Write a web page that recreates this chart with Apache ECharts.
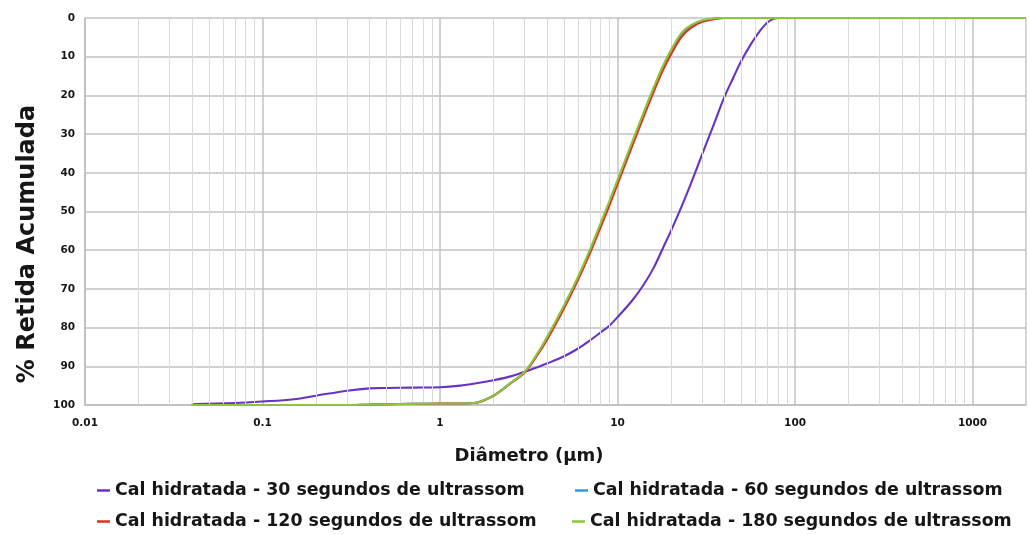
<!DOCTYPE html>
<html>
<head>
<meta charset="utf-8">
<script src="https://cdn.jsdelivr.net/npm/echarts@6/dist/echarts.min.js"></script>
<style>
  html, body { margin: 0; padding: 0; background: #ffffff; }
  #chart { width: 1029px; height: 535px; }
</style>
</head>
<body>
<div id="chart"></div>
<script>
// Particle diameters (µm) shared by every curve
const diameters = [0.04, 0.07, 0.1, 0.15, 0.2, 0.3, 0.4, 0.5, 0.7, 1, 1.3, 1.6, 2, 2.5, 3, 3.5, 4, 5, 6, 7, 8, 9, 10, 12, 14, 16, 18, 20, 23, 26, 30, 35, 40, 45, 50, 56, 63, 71, 80, 100, 200, 500, 1000, 2000];

// Cumulative retained (%) for each ultrasound time
const cal30 = [99.8, 99.5, 99.1, 98.5, 97.6, 96.3, 95.7, 95.6, 95.5, 95.4, 95.0, 94.4, 93.6, 92.6, 91.4, 90.3, 89.3, 87.4, 85.4, 83.3, 81.3, 79.5, 77.3, 73.2, 69.0, 64.5, 59.5, 55.0, 48.6, 42.6, 35.2, 27.3, 20.4, 15.3, 10.9, 7.0, 3.5, 0.9, 0, 0, 0, 0, 0, 0];
const cal60 = [100, 100, 100, 100, 100, 100, 99.9, 99.8, 99.7, 99.6, 99.6, 99.4, 97.6, 94.3, 91.5, 87.2, 82.8, 74.6, 67.2, 60.2, 53.7, 47.8, 42.3, 33.0, 25.0, 18.4, 12.9, 8.8, 4.2, 2.1, 0.8, 0.2, 0, 0, 0, 0, 0, 0, 0, 0, 0, 0, 0, 0];
const cal120 = [100, 100, 100, 100, 100, 100, 99.9, 99.8, 99.7, 99.6, 99.6, 99.4, 97.6, 94.4, 91.6, 87.4, 83.2, 75.0, 67.6, 60.7, 54.2, 48.4, 42.9, 33.5, 25.6, 19.0, 13.5, 9.4, 4.8, 2.5, 1.0, 0.3, 0, 0, 0, 0, 0, 0, 0, 0, 0, 0, 0, 0];
const cal180 = [100, 100, 100, 100, 100, 100, 99.9, 99.8, 99.7, 99.6, 99.6, 99.4, 97.6, 94.3, 91.4, 87.0, 82.5, 74.2, 66.8, 59.8, 53.2, 47.3, 41.8, 32.4, 24.5, 17.9, 12.4, 8.3, 3.8, 1.8, 0.6, 0.1, 0, 0, 0, 0, 0, 0, 0, 0, 0, 0, 0, 0];

const seriesNames = [
  'Cal hidratada - 30 segundos de ultrassom',
  'Cal hidratada - 60 segundos de ultrassom',
  'Cal hidratada - 120 segundos de ultrassom',
  'Cal hidratada - 180 segundos de ultrassom'
];
const seriesColors = ['#6633c4', '#2f97e6', '#e0301e', '#8cc43c'];
const xTickLabels = ['0.01', '0.1', '1', '10', '100', '1000'];
const xTickValues = [0.01, 0.1, 1, 10, 100, 1000];

const FONT = '"DejaVu Sans", sans-serif';
const TEXT = '#161616';

// minor vertical gridlines at 2..9 of every decade
const minorLines = [];
for (let e = -2; e <= 3; e++) {
  for (let m = 2; m <= 9; m++) {
    const v = +(m * Math.pow(10, e)).toPrecision(3);
    if (v <= 2000) minorLines.push({ xAxis: v });
  }
}

const curves = [cal30, cal60, cal120, cal180];
const lineSeries = curves.map((vals, k) => ({
  name: seriesNames[k],
  type: 'line',
  data: diameters.map((d, i) => [d, vals[i]]),
  showSymbol: false,
  smooth: 0.35,
  z: 3 + k,
  color: seriesColors[k],
  lineStyle: { width: 2.1, color: seriesColors[k] }
}));

const legendCommon = {
  icon: 'rect',
  itemWidth: 13,
  itemHeight: 2.5,
  padding: 0,
  itemGap: 0,
  selectedMode: false,
  textStyle: { fontFamily: FONT, fontWeight: 'bold', fontSize: 17.4, color: TEXT }
};

const chart = echarts.init(document.getElementById('chart'), null, { renderer: 'canvas' });
chart.setOption({
  backgroundColor: '#ffffff',
  animation: false,
  grid: { left: 85, right: 1, top: 18, bottom: 130, containLabel: false },
  xAxis: {
    type: 'log',
    logBase: 10,
    min: 0.01,
    max: 2000,
    axisLine: { show: true, onZero: false, lineStyle: { color: '#bdbdbd', width: 1.5 } },
    axisTick: { show: false },
    axisLabel: {
      margin: 13,
      fontFamily: FONT,
      fontWeight: 'bold',
      fontSize: 10.5,
      color: TEXT,
      formatter: function (v) {
        for (let i = 0; i < xTickValues.length; i++) {
          if (Math.abs(Math.log10(v) - Math.log10(xTickValues[i])) < 1e-6) return xTickLabels[i];
        }
        return '';
      }
    },
    splitLine: { show: true, lineStyle: { color: '#c2c2c2', width: 1.5 } }
  },
  yAxis: {
    type: 'value',
    inverse: true,
    min: 0,
    max: 100,
    interval: 10,
    axisLine: { show: true, onZero: false, lineStyle: { color: '#bdbdbd', width: 1.5 } },
    axisTick: { show: false },
    axisLabel: { margin: 10, fontFamily: FONT, fontWeight: 'bold', fontSize: 10.5, color: TEXT },
    splitLine: { show: true, lineStyle: { color: '#c2c2c2', width: 1.5 } }
  },
  legend: [
    Object.assign({ data: [seriesNames[0]], left: 97, top: 482 }, legendCommon),
    Object.assign({ data: [seriesNames[1]], left: 575, top: 482 }, legendCommon),
    Object.assign({ data: [seriesNames[2]], left: 97, top: 513 }, legendCommon),
    Object.assign({ data: [seriesNames[3]], left: 572, top: 513 }, legendCommon)
  ],
  graphic: [
    {
      type: 'text', x: 529, y: 456, silent: true,
      style: { text: 'Diâmetro (µm)', font: 'bold 18px ' + FONT, fill: TEXT, align: 'center', verticalAlign: 'middle' }
    },
    {
      type: 'text', x: 28, y: 244, rotation: Math.PI / 2, silent: true,
      style: { text: '% Retida Acumulada', font: 'bold 24px ' + FONT, fill: TEXT, align: 'center', verticalAlign: 'middle' }
    }
  ],
  series: [
    {
      name: 'minor-grid',
      type: 'line',
      data: [],
      z: 1,
      silent: true,
      markLine: {
        silent: true,
        symbol: 'none',
        animation: false,
        label: { show: false },
        lineStyle: { color: '#dadada', width: 1, type: 'solid' },
        emphasis: { disabled: true },
        data: minorLines
      }
    }
  ].concat(lineSeries)
});
</script>
</body>
</html>
